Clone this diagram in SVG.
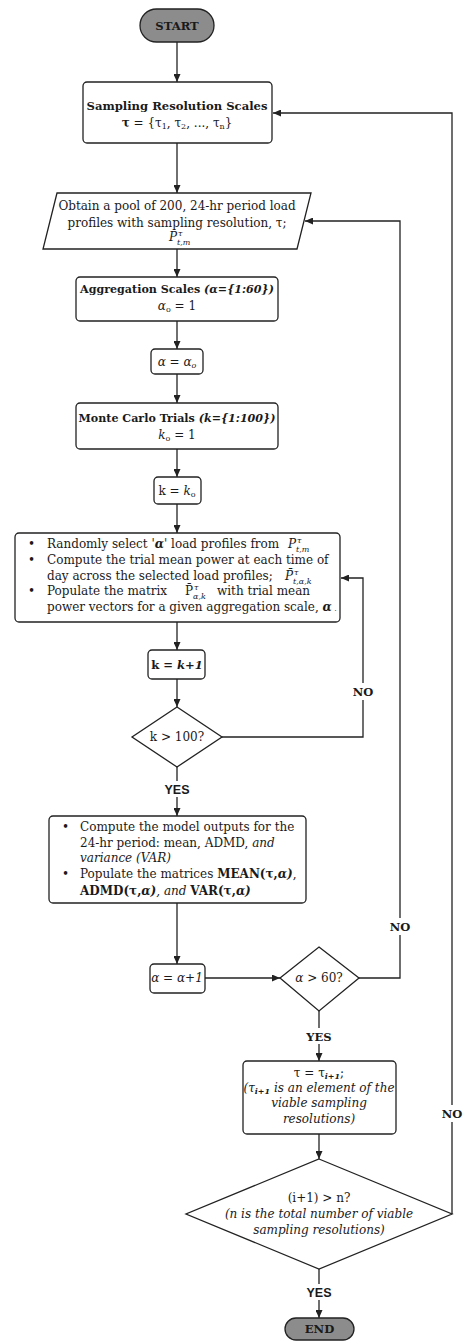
<svg xmlns="http://www.w3.org/2000/svg" width="466" height="1341" viewBox="0 0 466 1341">
<style>
.box{fill:#fff;stroke:#222;stroke-width:1.3}
.term{fill:#8c8c8c;stroke:#222;stroke-width:1.3}
.conn{fill:none;stroke:#222;stroke-width:1.3;marker-end:url(#ah)}
.t{font-family:"DejaVu Serif","Liberation Serif",serif;font-size:12px;fill:#1a1a1a}
.c{text-anchor:middle}
.b{font-weight:bold}
.h{font-size:11.6px}
.h2{font-size:11.1px}
.i{font-style:italic}
.lbl{font-family:"DejaVu Serif",serif;font-size:11.5px;font-weight:bold;fill:#1a1a1a;text-anchor:middle}
.lbls{font-family:"Liberation Sans",Arial,sans-serif;font-size:12.5px;font-weight:bold;fill:#1a1a1a;text-anchor:middle}
.s{font-size:8px}
</style>
<defs>
<marker id="ah" markerWidth="8" markerHeight="7" refX="8" refY="3.5" orient="auto" markerUnits="userSpaceOnUse">
<path d="M0,0 L8,3.5 L0,7 z" fill="#222"/>
</marker>
</defs>
<rect width="466" height="1341" fill="#fff"/>

<g id="connectors">
<path class="conn" d="M177,42 V82"/>
<path class="conn" d="M177,143 V193"/>
<path class="conn" d="M177,249 V277"/>
<path class="conn" d="M177,321 V349"/>
<path class="conn" d="M177,374 V403"/>
<path class="conn" d="M177,449 V477"/>
<path class="conn" d="M177,504 V533"/>
<path class="conn" d="M177,622 V650"/>
<path class="conn" d="M177,679 V707"/>
<path class="conn" d="M222,737 H363 V700 M363,683 V578 H341"/>
<path class="conn" d="M177,767 V781 M177,797 V816"/>
<path class="conn" d="M177,903 V964"/>
<path class="conn" d="M205,978 H280"/>
<path class="conn" d="M359,978 H400 V935 M400,918 V221 H305"/>
<path class="conn" d="M319,1011 V1028 M319,1044 V1061"/>
<path class="conn" d="M319,1134 V1159"/>
<path class="conn" d="M452,1214 V1122 M452,1105 V113 H273"/>
<path class="conn" d="M319,1269 V1284 M319,1300 V1318"/>
<text class="lbl" x="363" y="696">NO</text>
<text class="lbls" x="177" y="794">YES</text>
<text class="lbl" x="400" y="931">NO</text>
<text class="lbl" x="319" y="1041">YES</text>
<text class="lbl" x="452" y="1118">NO</text>
<text class="lbls" x="319" y="1297">YES</text>
</g>

<g id="start">
<rect class="term" x="140" y="9" width="74" height="33" rx="16.5"/>
<text class="t c b h" x="177" y="30">START</text>
</g>

<g id="sampling">
<rect class="box" x="83" y="82" width="189" height="61" rx="4"/>
<text class="t c b h" x="177" y="110">Sampling Resolution Scales</text>
<text class="t c" x="177" y="127"><tspan class="b">τ</tspan> = {τ<tspan class="s" dy="2">1</tspan><tspan dy="-2">, τ</tspan><tspan class="s" dy="2">2</tspan><tspan dy="-2">, ..., τ</tspan><tspan class="s" dy="2">n</tspan><tspan dy="-2">}</tspan></text>
</g>

<g id="pool">
<path class="box" d="M57,193 H311 L297,249 H43 Z"/>
<text class="t c" x="177" y="210">Obtain a pool of 200, 24-hr period load</text>
<text class="t c" x="177" y="227">profiles with sampling resolution, τ;</text>
<text class="t i" x="169" y="241">P</text>
<text class="t i s" x="178" y="236">τ</text>
<text class="t i s" x="177" y="245">t,m</text>
</g>

<g id="aggregation">
<rect class="box" x="76" y="277" width="202" height="44" rx="4"/>
<text class="t c b h2" x="177" y="293">Aggregation Scales <tspan class="i">(α={1:60})</tspan></text>
<text class="t c" x="177" y="310"><tspan class="i">α</tspan><tspan class="s" dy="2">o</tspan><tspan dy="-2"> = 1</tspan></text>
</g>

<g id="alpha0">
<rect class="box" x="151" y="349" width="52" height="25" rx="4"/>
<text class="t c i" x="177" y="366">α = α<tspan class="s" dy="2">o</tspan></text>
</g>

<g id="montecarlo">
<rect class="box" x="76" y="403" width="202" height="46" rx="4"/>
<text class="t c b h2" x="177" y="422">Monte Carlo Trials <tspan class="i">(k={1:100})</tspan></text>
<text class="t c" x="177" y="439"><tspan class="i">k</tspan><tspan class="s" dy="2">o</tspan><tspan dy="-2"> = 1</tspan></text>
</g>

<g id="k0">
<rect class="box" x="154" y="477" width="47" height="27" rx="4"/>
<text class="t c" x="177" y="495">k = <tspan class="i">k</tspan><tspan class="s" dy="2">o</tspan></text>
</g>

<g id="trials">
<rect class="box" x="15" y="533" width="325" height="89" rx="4"/>
<text class="t" x="28" y="548">•</text>
<text class="t" x="47" y="548">Randomly select '<tspan class="i b">α</tspan>' load profiles from</text>
<text class="t i" x="288" y="548">P</text>
<text class="t i s" x="297" y="543">τ</text>
<text class="t i s" x="296" y="552">t,m</text>
<text class="t" x="28" y="564">•</text>
<text class="t" x="47" y="564">Compute the trial mean power at each time of</text>
<text class="t" x="47" y="580">day across the selected load profiles;</text>
<text class="t i" x="285" y="580">P̄</text>
<text class="t i s" x="294" y="575">τ</text>
<text class="t i s" x="293" y="584">t,α,k</text>
<text class="t" x="28" y="595">•</text>
<text class="t" x="47" y="595">Populate the matrix</text>
<text class="t" x="185" y="595">P̄</text>
<text class="t i s" x="194" y="590">τ</text>
<text class="t i s" x="193" y="599">α,k</text>
<text class="t" x="217" y="595">with trial mean</text>
<text class="t" x="47" y="611">power vectors for a given aggregation scale, <tspan class="i b">α</tspan><tspan class="s"> .</tspan></text>
</g>

<g id="kinc">
<rect class="box" x="148" y="650" width="57" height="29" rx="4"/>
<text class="t c b h" x="177" y="669">k = <tspan class="i">k+1</tspan></text>
</g>

<g id="kcheck">
<path class="box" d="M177,707 L222,737 L177,767 L132,737 Z"/>
<text class="t c" x="177" y="741">k &gt; 100?</text>
</g>

<g id="outputs">
<rect class="box" x="49" y="816" width="257" height="87" rx="4"/>
<text class="t" x="62" y="831">•</text>
<text class="t" x="80" y="831">Compute the model outputs for the</text>
<text class="t" x="80" y="847">24-hr period: mean, ADMD, <tspan class="i">and</tspan></text>
<text class="t i" x="80" y="862">variance (VAR)</text>
<text class="t" x="62" y="878">•</text>
<text class="t" x="80" y="878">Populate the matrices <tspan class="b">MEAN(τ,</tspan><tspan class="b i">α)</tspan>,</text>
<text class="t" x="80" y="895"><tspan class="b">ADMD(τ,</tspan><tspan class="b i">α)</tspan><tspan class="i">, and </tspan><tspan class="b">VAR(τ,</tspan><tspan class="b i">α)</tspan></text>
</g>

<g id="ainc">
<rect class="box" x="150" y="964" width="55" height="29" rx="4"/>
<text class="t c i" x="177" y="982">α = α+1</text>
</g>

<g id="acheck">
<path class="box" d="M319,947 L359,978 L319,1011 L280,978 Z"/>
<text class="t c" x="319" y="982"><tspan class="i">α</tspan> &gt; 60?</text>
</g>

<g id="taunext">
<rect class="box" x="243" y="1061" width="153" height="73" rx="4"/>
<text class="t c" x="319" y="1077">τ = τ<tspan class="s i b" dy="2">i+1</tspan><tspan dy="-2">;</tspan></text>
<text class="t c i" x="319" y="1092">(τ<tspan class="s b" dy="2">i+1</tspan><tspan dy="-2"> is an element of the</tspan></text>
<text class="t c i" x="319" y="1107">viable sampling</text>
<text class="t c i" x="319" y="1123">resolutions)</text>
</g>

<g id="icheck">
<path class="box" d="M319,1159 L452,1214 L319,1269 L186,1214 Z"/>
<text class="t c" x="319" y="1202">(i+1) &gt; n?</text>
<text class="t c i" x="319" y="1218">(n  is the total number of viable</text>
<text class="t c i" x="319" y="1234">sampling resolutions)</text>
</g>

<g id="end">
<rect class="term" x="285" y="1318" width="69" height="22" rx="11"/>
<text class="t c b h" x="319.5" y="1333">END</text>
</g>
</svg>
